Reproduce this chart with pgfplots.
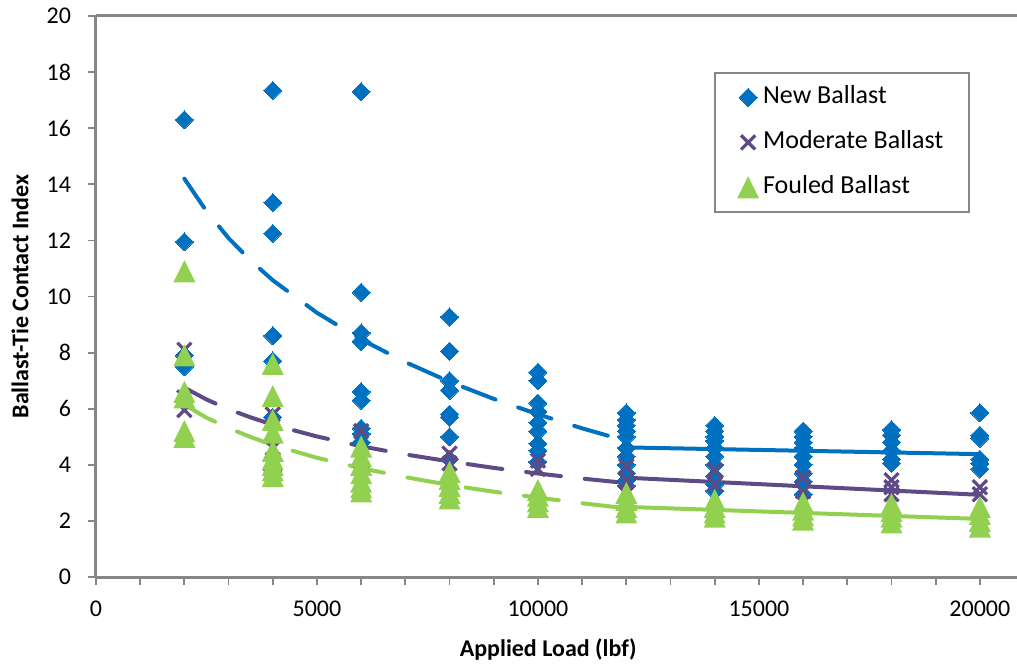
\documentclass[border=0pt]{standalone}
\usepackage{fontspec}
\setmainfont{Carlito}
\usepackage{pgfplots}
\pgfplotsset{compat=1.18}
\definecolor{nb}{HTML}{0070C0}
\definecolor{mb}{HTML}{5E4A85}
\definecolor{fb}{HTML}{92D050}
\definecolor{axg}{HTML}{868686}
\pgfdeclareplotmark{xtri}{%
  \pgfpathmoveto{\pgfqpoint{0pt}{\pgfplotmarksize}}%
  \pgfpathlineto{\pgfqpoint{\pgfplotmarksize}{-\pgfplotmarksize}}%
  \pgfpathlineto{\pgfqpoint{-\pgfplotmarksize}{-\pgfplotmarksize}}%
  \pgfpathclose
  \pgfusepathqfill
}
\begin{document}
\begin{tikzpicture}
\begin{axis}[name=ax, at={(0,0)}, anchor=south west,
  scale only axis, width=460.5pt, height=280.5pt,
  xmin=0, xmax=20840, ymin=0, ymax=20,
  axis x line*=bottom, axis y line*=left,
  axis line style={axg, line width=1.5pt},
  tick style={axg, line width=0.9pt},
  tick align=outside, major tick length=4pt, minor tick length=4pt,
  xtick={0,5000,10000,15000,20000}, minor x tick num=4,
  ytick={0,2,...,20},
  scaled x ticks=false, scaled y ticks=false,
  /pgf/number format/1000 sep={},
  /pgf/number format/assume math mode=true,
  xticklabel style={font=\fontsize{12}{14}\selectfont, yshift=-4.5pt},
  yticklabel style={font=\fontsize{12}{14}\selectfont, xshift=-5pt},
  xlabel={Applied Load (lbf)},
  ylabel={Ballast-Tie Contact Index},
  xlabel style={font=\fontsize{12}{14}\selectfont\bfseries, at={(axis description cs:0.491,-0.130)}, anchor=center},
  ylabel style={font=\fontsize{12}{14}\selectfont\bfseries, at={(axis description cs:-0.0825,0.5)}, anchor=center},
  legend style={at={(axis description cs:0.949,0.900)}, anchor=north east,
    draw=axg, line width=0.8pt, font=\fontsize{13}{15}\selectfont,
    inner xsep=11pt, inner ysep=4pt, row sep=6pt,
    nodes={text height=9.5pt, text depth=3pt, inner sep=2pt}},
  legend cell align=left,
  legend image code/.code={\draw[mark repeat=2,mark phase=2] plot coordinates {(0pt,0pt)(8pt,0pt)(16pt,0pt)};},
]
\addplot[only marks, mark=square*, mark size=3.2pt, mark options={rotate=45, fill=nb, draw=nb, line width=0pt}, color=nb] coordinates {
(2000,16.3)(2000,11.95)(2000,7.9)(2000,7.5)
(4000,17.35)(4000,13.35)(4000,12.25)(4000,8.6)(4000,7.7)(4000,5.7)(4000,3.8)
(6000,17.3)(6000,10.15)(6000,8.7)(6000,8.4)(6000,6.6)(6000,6.3)(6000,5.3)(6000,5.1)(6000,4.8)(6000,3.7)
(8000,9.27)(8000,8.05)(8000,7.0)(8000,6.65)(8000,5.8)(8000,5.7)(8000,5.0)(8000,4.2)
(10000,7.3)(10000,7.0)(10000,6.2)(10000,5.9)(10000,5.5)(10000,5.2)(10000,4.75)(10000,4.5)(10000,4.1)
(12000,5.85)(12000,5.6)(12000,5.4)(12000,5.2)(12000,5.0)(12000,4.6)(12000,4.3)(12000,4.0)(12000,3.7)(12000,3.45)(12000,3.25)
(14000,5.4)(14000,5.2)(14000,5.0)(14000,4.85)(14000,4.6)(14000,4.3)(14000,4.0)(14000,3.6)(14000,3.3)(14000,3.07)
(16000,5.2)(16000,5.0)(16000,4.8)(16000,4.6)(16000,4.3)(16000,4.0)(16000,3.7)(16000,3.4)(16000,2.95)
(18000,5.25)(18000,5.05)(18000,4.8)(18000,4.5)(18000,4.2)(18000,4.05)
(20000,5.85)(20000,5.05)(20000,4.95)(20000,4.2)(20000,4.05)(20000,3.85)
};
\addlegendentry{New Ballast}
\addplot[only marks, mark=x, mark size=5pt, mark options={draw=mb, line width=1.6pt}, color=mb] coordinates {
(2000,8.1)(2000,6.4)(2000,5.95)
(4000,5.8)(4000,4.6)
(6000,5.2)(6000,3.7)
(8000,4.4)(8000,4.05)
(10000,4.15)(10000,3.85)
(12000,3.95)(12000,3.45)(12000,3.0)
(14000,3.8)(14000,3.3)
(16000,3.55)(16000,3.05)
(18000,3.45)(18000,3.2)(18000,2.95)
(20000,3.2)(20000,2.95)
};
\addlegendentry{Moderate Ballast}
\addplot[only marks, mark=xtri, mark size=5.5pt, mark options={fill=fb, draw=fb}, color=fb] coordinates {
(2000,10.9)(2000,7.9)(2000,6.6)(2000,6.4)(2000,5.2)(2000,5.0)
(4000,7.6)(4000,6.45)(4000,5.6)(4000,5.15)(4000,4.5)(4000,4.2)(4000,4.0)(4000,3.8)(4000,3.6)
(6000,4.65)(6000,4.3)(6000,4.0)(6000,3.7)(6000,3.4)(6000,3.2)(6000,3.05)
(8000,3.75)(8000,3.5)(8000,3.25)(8000,3.0)(8000,2.8)
(10000,3.1)(10000,2.9)(10000,2.7)(10000,2.5)
(12000,3.0)(12000,2.75)(12000,2.5)(12000,2.3)
(14000,2.75)(14000,2.5)(14000,2.3)(14000,2.15)
(16000,2.65)(16000,2.4)(16000,2.2)(16000,2.05)
(18000,2.6)(18000,2.35)(18000,2.15)(18000,1.95)
(20000,2.5)(20000,2.25)(20000,2.0)(20000,1.8)
};
\addlegendentry{Fouled Ballast}
% trend lines
\addplot[forget plot, no marks, nb, line width=2pt, line cap=round, dash pattern=on 17.5pt off 12pt] coordinates {
(2000,14.2)(2500,13.04)(3000,12.08)(3500,11.28)(4000,10.58)(5000,9.42)(6000,8.47)(7000,7.66)(8000,6.96)(9000,6.35)(10000,5.80)(11000,5.30)(12000,4.85)};
\addplot[forget plot, no marks, nb, line width=2pt, line cap=round] coordinates {(12000,4.62)(20000,4.38)};
\addplot[forget plot, no marks, mb, line width=2pt, line cap=round, dash pattern=on 17.5pt off 12pt] coordinates {
(2000,6.75)(2500,6.33)(3000,5.98)(3500,5.69)(4000,5.43)(5000,5.01)(6000,4.66)(7000,4.37)(8000,4.12)(9000,3.89)(10000,3.69)(11000,3.51)(12000,3.35)};
\addplot[forget plot, no marks, mb, line width=2pt, line cap=round] coordinates {(12000,3.54)(20000,2.93)};
\addplot[forget plot, no marks, fb, line width=2pt, line cap=round, dash pattern=on 17.5pt off 12pt] coordinates {
(2000,6.14)(2500,5.68)(3000,5.31)(3500,4.99)(4000,4.71)(5000,4.25)(6000,3.88)(7000,3.56)(8000,3.28)(9000,3.04)(10000,2.83)(11000,2.63)(12000,2.45)};
\addplot[forget plot, no marks, fb, line width=2pt, line cap=round] coordinates {(12000,2.5)(20000,2.07)};
\end{axis}
\draw[axg, line width=1.5pt] (ax.north west) -- (ax.north east);
\pgfresetboundingbox
\path[use as bounding box] (-48pt,-44pt) rectangle (460.5pt,288.5pt);
\end{tikzpicture}
\end{document}
